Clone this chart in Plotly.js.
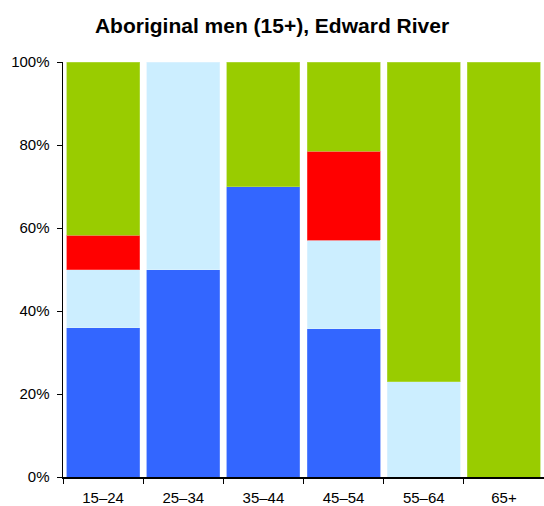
<!DOCTYPE html>
<html><head><meta charset="utf-8">
<script src="https://cdn.plot.ly/plotly-3.0.1.min.js"></script>
<style>body{margin:0;background:#fff}#c{width:544px;height:506px}</style>
</head><body><div id="c"></div>
<script>
const categories = ["15–24","25–34","35–44","45–54","55–64","65+"];
const blueVals = [36.0, 50, 70, 35.7, 0, 0];
const lightBlueVals = [14.0, 50, 0, 21.4, 23.0, 0];
const redVals = [8.3, 0, 0, 21.4, 0, 0];
const greenVals = [41.7, 0, 30, 21.5, 77.0, 100];
const yTickVals = [0, 20, 40, 60, 80, 100];
const yTickText = ["0%","20%","40%","60%","80%","100%"];

const series = [
  {name:"blue", y: blueVals, color:"#3366FF", line:"#6f93ff"},
  {name:"lightblue", y: lightBlueVals, color:"#CCEEFF", line:"#e0f4ff"},
  {name:"red", y: redVals, color:"#FF0000", line:"#ff5a5a"},
  {name:"green", y: greenVals, color:"#99CC00", line:"#b8dc55"}
];
const data = series.map(s => ({
  type:"bar", x: categories, y: s.y.map(v => v === 0 ? null : v), name: s.name,
  marker:{color:s.color, line:{color:s.line, width:0.6}},
  hoverinfo:"none"
}));
const layout = {
  width:544, height:506,
  barmode:"stack", bargap:0.09,
  showlegend:false,
  paper_bgcolor:"#fff", plot_bgcolor:"#fff",
  margin:{l:63, r:0, t:62, b:29},
  font:{family:"Liberation Sans, Arial, sans-serif", size:15, color:"#000"},
  title:{text:"<b>Aboriginal men (15+), Edward River</b>", x:0.5, xanchor:"center", y:0.95, yanchor:"middle", font:{size:21, color:"#000"}},
  xaxis:{type:"category", tickson:"boundaries", ticks:"outside", ticklen:5, tickcolor:"#000",
    showline:true, linecolor:"#000", linewidth:1.5, showgrid:false, zeroline:false,
    range:[-0.5,5.5], tickfont:{size:15}, ticklabelstandoff:6},
  yaxis:{range:[0,100], tickvals:yTickVals, ticktext:yTickText, ticks:"outside", ticklen:5, tickcolor:"#000",
    showline:true, linecolor:"#000", linewidth:1.5, showgrid:false, zeroline:false, tickfont:{size:15}, ticklabelstandoff:4}
};
Plotly.newPlot("c", data, layout, {displayModeBar:false, staticPlot:true});
</script></body></html>
